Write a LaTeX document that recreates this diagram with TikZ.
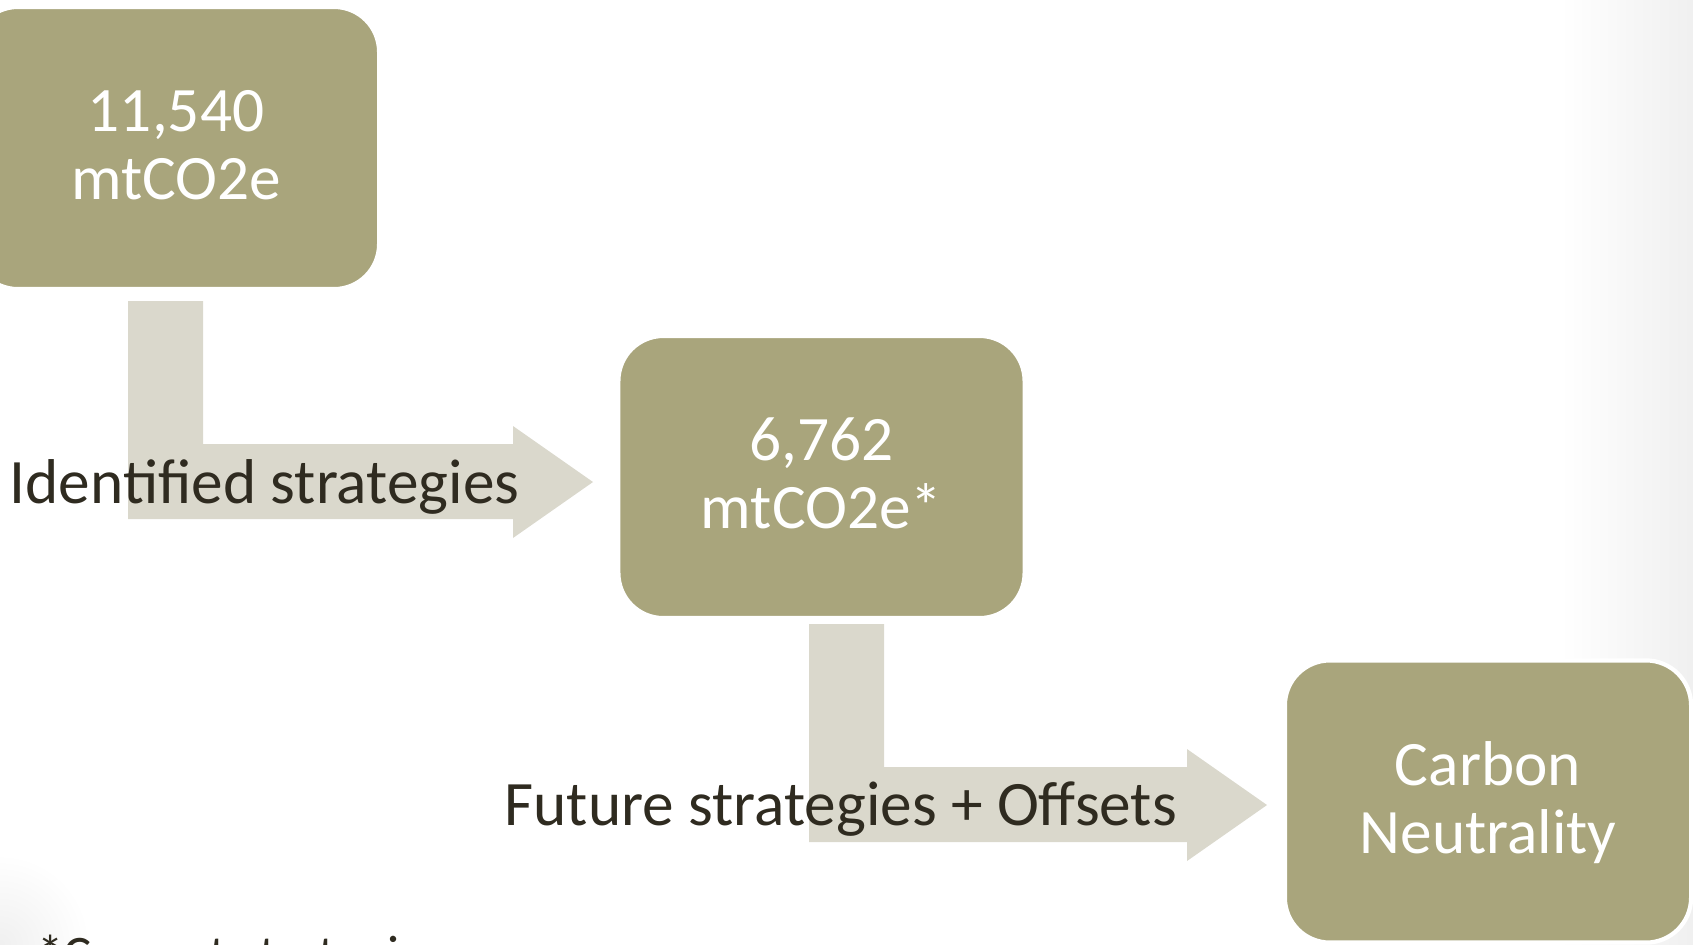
\documentclass[tikz,border=0pt]{standalone}
\usepackage{fontspec}
\setmainfont{Carlito}
\usepackage{xcolor}
\usetikzlibrary{positioning}
\definecolor{boxOlive}{RGB}{169,165,124}
\definecolor{flowGray}{RGB}{218,216,204}
\definecolor{labelInk}{RGB}{47,43,32}

% two centred lines, with a little extra room above the first one
\newcommand{\twolines}[2]{\rule{0pt}{15.8pt}#1\\#2\rule[-5.8pt]{0pt}{1pt}}

\tikzset{
  valuebox/.style={fill=boxOlive, draw=white, line width=1.2pt, rounded corners=0.45cm,
    minimum width=4.06cm, minimum height=2.82cm, inner sep=0pt, align=center,
    text=white, font=\fontsize{18}{19.3}\selectfont},
  steplabel/.style={text=labelInk, inner sep=0pt, font=\fontsize{18}{21.6}\selectfont},
  % elbow arrow, #1 = where the head starts
  pics/bent arrow/.style={code={
    \fill[flowGray] (0,0) -- (75,0) -- (75,143) -- (#1,143) -- (#1,125)
      -- ({#1+80},181) -- (#1,237) -- (#1,218) -- (0,218) -- cycle;
  }}
}

\begin{document}
\begin{tikzpicture}[x=0.01cm,y=-0.01cm]
    \useasboundingbox (0,0) rectangle (1693,944);
    \clip (0,0) rectangle (1693,944);

    % page shading
    \fill[left color=white, right color=black!6] (1560,0) rectangle (1693,944);
    \shade[inner color=black!6, outer color=white] (0,944) circle (90);

    % arrows
    \pic (cut) at (128,301) {bent arrow=385};
    \pic (offset) at (809,624) {bent arrow=378};

    % boxes
    \node[valuebox] (start) at (176,148) {\twolines{11,540}{mtCO2e}};
    \node[valuebox] (reduced) at (821.5,477) {\twolines{6,762}{mtCO2e*}};
    \node[valuebox] (neutral) at (1488,801.5) {\twolines{Carbon}{Neutrality}};

    % labels
    \node[steplabel, anchor=base west] (cutlabel) at (9,503) {Identified strategies};
    \node[steplabel, anchor=base west] (offsetlabel) at (504,825) {Future strategies + Offsets};

    % footnote
    \node[steplabel, anchor=base west, font=\fontsize{15}{18}\selectfont] (note) at (37,972) {*Current strategies};
\end{tikzpicture}
\end{document}
